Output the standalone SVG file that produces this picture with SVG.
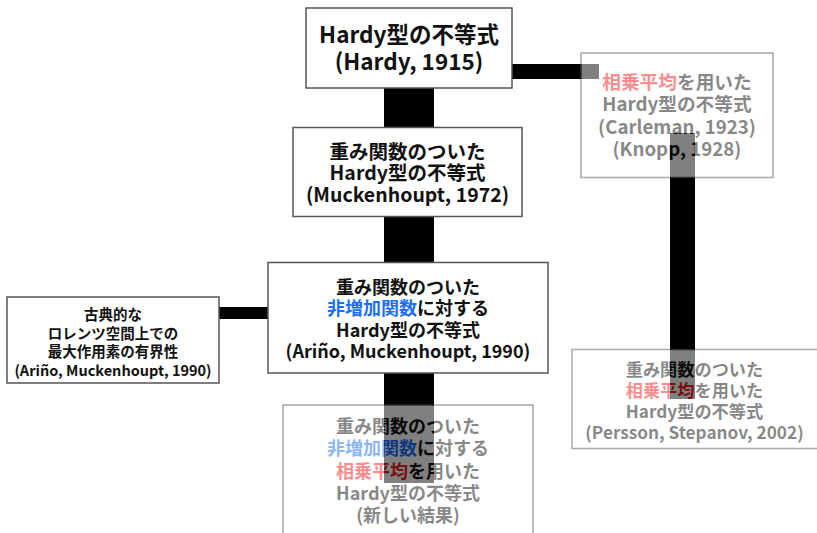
<svg xmlns="http://www.w3.org/2000/svg" width="817" height="533" viewBox="0 0 817 533">
<style>
.bg{fill:#ffffff}
.box{fill:#ffffff;stroke:#555555;stroke-width:1.5}
.t{font-family:"Noto Sans CJK JP","Noto Sans",sans-serif;font-weight:bold;fill:#111111;text-anchor:middle}
.f18{font-size:18px}
.f19{font-size:19.5px}
.f185{font-size:18.7px}
.f17{font-size:17.2px}
.f22{font-size:22.5px}
.f15{font-size:14.5px}
.blue{fill:#1a6fff}
.red{fill:#f02020}
.faded{opacity:0.5}
.edge{stroke:#000000;fill:none;stroke-linecap:butt}
</style>
<rect class="bg" x="0" y="0" width="817" height="533"/>
<g id="connectors">
<line class="edge" x1="409" y1="48" x2="409" y2="171" stroke-width="50"/>
<line class="edge" x1="409" y1="171" x2="409" y2="317" stroke-width="50"/>
<line class="edge" x1="409" y1="317" x2="409" y2="483" stroke-width="50"/>
<line class="edge" x1="409" y1="71.5" x2="599" y2="71.5" stroke-width="15"/>
<line class="edge" x1="682.5" y1="133" x2="682.5" y2="399" stroke-width="25"/>
<line class="edge" x1="113" y1="313" x2="409" y2="313" stroke-width="12"/>
</g>
<g id="hardy1915">
<rect class="box" x="306" y="8" width="206" height="80"/>
<text class="t f22" x="409" y="43">Hardy型の不等式</text>
<text class="t f22" x="409" y="70">(Hardy, 1915)</text>
</g>
<g id="muckenhoupt1972">
<rect class="box" x="293" y="127.5" width="229" height="89"/>
<text class="t f19" x="407.5" y="158.5">重み関数のついた</text>
<text class="t f19" x="407.5" y="180">Hardy型の不等式</text>
<text class="t f19" x="407.5" y="201.5">(Muckenhoupt, 1972)</text>
</g>
<g id="arino1990">
<rect class="box" x="268" y="262.5" width="280" height="110.5"/>
<text class="t f18" x="408" y="293.5">重み関数のついた</text>
<text class="t f18" x="408" y="315"><tspan class="blue">非増加関数</tspan>に対する</text>
<text class="t f18" x="408" y="336.5">Hardy型の不等式</text>
<text class="t f18" x="408" y="358">(Ariño, Muckenhoupt, 1990)</text>
</g>
<g id="lorentz">
<rect class="box" x="7" y="297" width="212" height="86"/>
<text class="t f15" x="113" y="320">古典的な</text>
<text class="t f15" x="113" y="338.5">ロレンツ空間上での</text>
<text class="t f15" x="113" y="357">最大作用素の有界性</text>
<text class="t f15" x="113" y="375.5">(Ariño, Muckenhoupt, 1990)</text>
</g>
<g id="carleman" class="faded">
<rect class="box" x="581" y="53" width="192" height="124.5"/>
<text class="t f185" x="677" y="88.5"><tspan class="red">相乗平均</tspan>を用いた</text>
<text class="t f185" x="677" y="111">Hardy型の不等式</text>
<text class="t f185" x="677" y="133.5">(Carleman, 1923)</text>
<text class="t f185" x="677" y="156">(Knopp, 1928)</text>
</g>
<g id="persson" class="faded">
<rect class="box" x="572" y="349.5" width="246" height="99"/>
<text class="t f17" x="694.5" y="376">重み関数のついた</text>
<text class="t f17" x="694.5" y="397"><tspan class="red">相乗平均</tspan>を用いた</text>
<text class="t f17" x="694.5" y="417.5">Hardy型の不等式</text>
<text class="t f17" x="694.5" y="438.5">(Persson, Stepanov, 2002)</text>
</g>
<g id="newresult" class="faded">
<rect class="box" x="283" y="405" width="250" height="140"/>
<text class="t f18" x="408" y="433">重み関数のついた</text>
<text class="t f18" x="408" y="455"><tspan class="blue">非増加関数</tspan>に対する</text>
<text class="t f18" x="408" y="477.5"><tspan class="red">相乗平均</tspan>を用いた</text>
<text class="t f18" x="408" y="499.5">Hardy型の不等式</text>
<text class="t f18" x="408" y="521.5">(新しい結果)</text>
</g>
</svg>
